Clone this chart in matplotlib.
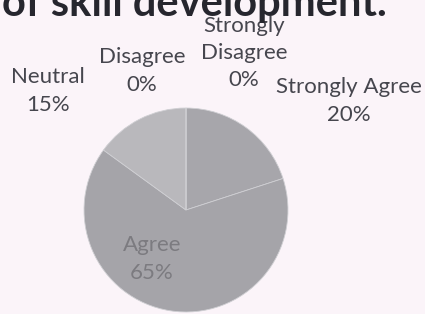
import matplotlib
matplotlib.use("Agg")
import matplotlib.pyplot as plt

# survey answers, clockwise from 12 o'clock
categories = ['Strongly Agree', 'Agree', 'Neutral', 'Disagree', 'Strongly Disagree']
label_text = ['Strongly Agree', 'Agree', 'Neutral', 'Disagree', 'Strongly\nDisagree']
values = [20, 65, 15, 0, 0]
title = 'of skill development.'

W, H = 425, 314
bg = '#fbf4f9'
colors = ['#a7a6ab', '#a5a4a9', '#b9b8bc', '#c4c4c8', '#d0d0d4']

fig = plt.figure(figsize=(W / 100, H / 100), dpi=100, facecolor=bg)
ax = fig.add_axes([83 / W, 1 - 313 / H, 206 / W, 206 / H])
ax.set_facecolor(bg)

wedges, _ = ax.pie(values, colors=colors, startangle=90, counterclock=False,
                   wedgeprops=dict(edgecolor='#cfcfd3', linewidth=0.6))
ax.set_xlim(-1.01, 1.01)
ax.set_ylim(-1.01, 1.01)
ax.set_aspect('equal')
ax.axis('off')

# label positions (px, block centre) as laid out in the original
pos = {
    'Strongly Agree': (349, 101),
    'Agree': (152, 259),
    'Neutral': (48, 91),
    'Disagree': (142, 71),
    'Strongly Disagree': (244, 53),
}
for cat, txt, v in zip(categories, label_text, values):
    x, y = pos[cat]
    col = '#7c7b80' if cat == 'Agree' else '#46464e'
    fig.text(x / W, 1 - y / H, f'{txt}\n{v}%', ha='center', va='center',
             fontsize=16, family='Lato', color=col, linespacing=1.45)

fig.text(387 / W, 1 - 16 / H, title, ha='right', va='baseline',
         fontsize=30, family='Lato', fontweight='bold', color='#26262e')

fig.savefig('out.png', dpi=100, facecolor=bg)
